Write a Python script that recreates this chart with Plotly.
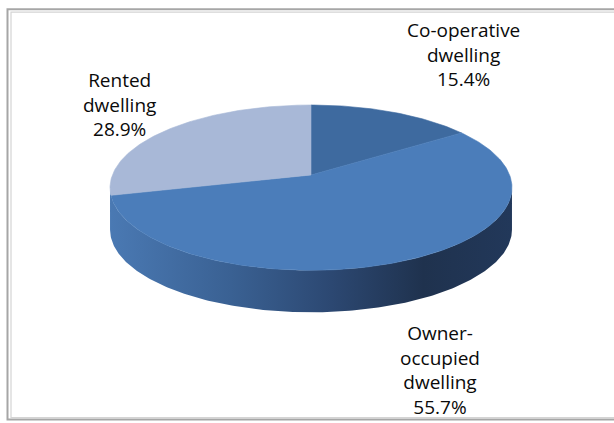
import numpy as np
import plotly.graph_objects as go

# Housing tenure shares (%)
categories = ["Co-operative dwelling", "Owner-occupied dwelling", "Rented dwelling"]
shares = [15.4, 55.7, 28.9]
label_lines = [["Co-operative", "dwelling"], ["Owner-", "occupied", "dwelling"], ["Rented", "dwelling"]]

top_colors = ["#3e6a9f", "#4b7dba", "#a8b8d7"]
side_scale = [[0.0, "#4a79b3"], [0.3, "#3a6193"], [0.55, "#2c4872"],
              [0.78, "#1f324e"], [1.0, "#22385a"]]
label_pos = [(463, 54), (440, 370), (119, 104)]

W, H = 614, 423
CX, APEX_Y = 311, 175       # pie centre on screen
R, K, C = 198.6, 0.153, 80.7  # radius, perspective, tilt scale
DEPTH = 42                  # pie thickness


def project(theta_deg):
    t = np.radians(theta_deg)
    x, z = np.sin(t), np.cos(t)
    d = 1 + K * z
    return CX + R * x / d, APEX_Y - C * z / d


fig = go.Figure()

# side wall (front half, between the two silhouette points)
t_sil = np.degrees(np.arccos(-K))
arc = np.linspace(t_sil, 360 - t_sil, 200)
sx, sy = project(arc)
side_x = np.concatenate([sx, sx[::-1]])
side_y = np.concatenate([sy, sy[::-1] + DEPTH])
fig.add_trace(go.Scatter(
    x=side_x, y=side_y, mode="lines", fill="toself",
    line=dict(width=0), fillgradient=dict(type="horizontal", colorscale=side_scale),
    hoverinfo="skip", showlegend=False))

# top face slices, clockwise from 12 o'clock
start = 0.0
for name, val, col in zip(categories, shares, top_colors):
    end = start + val / sum(shares) * 360
    th = np.linspace(start, end, max(int(val * 4), 20))
    ax, ay = project(th)
    px = np.concatenate([[CX], ax, [CX]])
    py = np.concatenate([[APEX_Y], ay, [APEX_Y]])
    fig.add_trace(go.Scatter(
        x=px, y=py, mode="lines", fill="toself", fillcolor=col,
        line=dict(color=col, width=0.6), name=name,
        hoverinfo="skip", showlegend=False))
    start = end

for lines, val, (lx, ly) in zip(label_lines, shares, label_pos):
    fig.add_annotation(
        x=lx, y=ly, xref="x", yref="y", showarrow=False,
        text="<br>".join(lines + [f"{val:.1f}%"]),
        font=dict(family="Open Sans", size=19, color="#0a0a0a"),
        align="center", xanchor="center", yanchor="middle")

# chart frame
fig.add_shape(type="rect", xref="x", yref="y", x0=7.5, y0=9.2, x1=625, y1=419.5,
              line=dict(color="#a6a6a6", width=2), layer="below")
fig.add_shape(type="rect", xref="x", yref="y", x0=11, y0=12.2, x1=625, y1=417.5,
              line=dict(color="#d4d4d4", width=1.2), layer="below")

fig.update_layout(
    width=W, height=H, margin=dict(l=0, r=0, t=0, b=0),
    paper_bgcolor="white", plot_bgcolor="white",
    xaxis=dict(range=[0, W], visible=False, fixedrange=True),
    yaxis=dict(range=[H, 0], visible=False, fixedrange=True),
)

fig.write_html("out.html")
